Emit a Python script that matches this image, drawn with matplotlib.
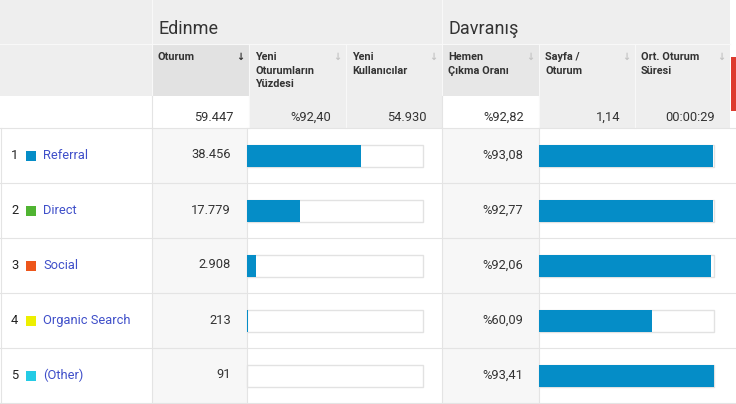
import matplotlib.pyplot as plt
from matplotlib.patches import Rectangle

plt.rcParams['font.family'] = ['Roboto', 'DejaVu Sans']

# data
channels = ['Referral', 'Direct', 'Social', 'Organic Search', '(Other)']
channel_colors = ['#058dc7', '#50b432', '#ed561b', '#edef00', '#24cbe5']
sessions = [38456, 17779, 2908, 213, 91]
bounce_rate = [93.08, 92.77, 92.06, 60.09, 93.41]

total_sessions = 59447
total_new_pct = 92.40
total_new_users = 54930
total_bounce = 92.82
total_pages = 1.14
total_duration = '00:00:29'

groups = ['Edinme', 'Davranış']
col_headers = [['Oturum'], ['Yeni', 'Oturumların', 'Yüzdesi'], ['Yeni', 'Kullanıcılar'],
               ['Hemen', 'Çıkma Oranı'], ['Sayfa /', 'Oturum'], ['Ort. Oturum', 'Süresi']]


def fmt_int(v):
    return f'{v:,}'.replace(',', '.')


def fmt_pct(v):
    return '%' + f'{v:.2f}'.replace('.', ',')


W, H = 736, 404
fig = plt.figure(figsize=(W / 100, H / 100), dpi=100)
ax = fig.add_axes([0, 0, 1, 1])
ax.set_xlim(0, W)
ax.set_ylim(H, 0)
ax.axis('off')

col_x = [152, 249, 346, 442, 539, 635, 730]
head_bg = '#eeeeee'
grid = '#e4e4e4'
txt = '#333333'

# header background
ax.add_patch(Rectangle((0, 0), 730, 96, color=head_bg, lw=0))
ax.add_patch(Rectangle((152, 44), 97, 52, color='#e2e2e2', lw=0))
ax.add_patch(Rectangle((442, 44), 97, 52, color='#e7e7e7', lw=0))
ax.add_patch(Rectangle((731, 57), 6, 54, color='#dd3b2f', lw=0))
ax.plot([0, 730], [44, 44], color='#f8f8f8', lw=0.8)
for x in [152, 442]:
    ax.plot([x, x], [0, 96], color='#f8f8f8', lw=0.8)
for x in [249, 346, 539, 635]:
    ax.plot([x, x], [44, 96], color='#f8f8f8', lw=0.8)

ax.text(158, 34, groups[0], fontsize=13, color=txt, va='baseline')
ax.text(448, 34, groups[1], fontsize=13, color=txt, va='baseline')

for i, lines in enumerate(col_headers):
    x0 = col_x[i]
    for j, line in enumerate(lines):
        ax.text(x0 + 6, 60 + 13.5 * j, line, fontsize=7.8, fontweight='bold',
                color=txt, va='baseline')
    active = i == 0
    ax.text(col_x[i + 1] - 9, 60, '↓', fontsize=7, fontweight='bold',
            color='#333333' if active else '#c4c4c4', va='baseline', ha='center')

# totals row
ax.add_patch(Rectangle((249, 96), 193, 32, color=head_bg, lw=0))
ax.add_patch(Rectangle((539, 96), 191, 32, color=head_bg, lw=0))
for x in [249, 346, 539, 635]:
    ax.plot([x, x], [96, 128], color='#f8f8f8', lw=0.8)
for x in [152, 442]:
    ax.plot([x, x], [96, 128], color=grid, lw=0.8)
totals = [fmt_int(total_sessions), fmt_pct(total_new_pct), fmt_int(total_new_users),
          fmt_pct(total_bounce), f'{total_pages:.2f}'.replace('.', ','), total_duration]
for i, t in enumerate(totals):
    ax.text(col_x[i + 1] - 15, 121, t, fontsize=9.3, color=txt, ha='right', va='baseline')

# data rows
row_top = 128
row_h = 55
n = len(channels)
ax.add_patch(Rectangle((152, row_top), 95, row_h * n, color='#f7f7f7', lw=0))
ax.add_patch(Rectangle((442, row_top), 97, row_h * n, color='#f7f7f7', lw=0))
ax.plot([0, W], [row_top, row_top], color=grid, lw=0.8)
for i in range(n):
    yb = row_top + row_h * (i + 1) - 0.5
    ax.plot([0, W], [yb, yb], color=grid, lw=0.8)
for x in [0.5, 152, 247, 442, 539]:
    ax.plot([x, x], [row_top, H], color=grid, lw=0.8)

centers = [row_top + row_h * i + 27.5 for i in range(n)]
for i, name in enumerate(channels):
    yc = centers[i]
    ax.text(11, yc + 3.5, str(i + 1), fontsize=9.3, color='#222222', va='baseline')
    ax.add_patch(Rectangle((26, yc - 4.5), 10, 10, color=channel_colors[i], lw=0))
    ax.text(43, yc + 3.5, name, fontsize=9.3, color='#3f4fc9', va='baseline')
    ax.text(231, yc + 3, fmt_int(sessions[i]), fontsize=9.3, color=txt, ha='right', va='baseline')
    ax.text(523, yc + 3, fmt_pct(bounce_rate[i]), fontsize=9.3, color=txt, ha='right', va='baseline')

# bar columns
ax_s = fig.add_axes([247 / W, 0, 176 / W, 1])
ax_s.set_xlim(0, total_sessions)
ax_s.set_ylim(H, 0)
ax_s.axis('off')
ax_s.barh(centers, [total_sessions] * n, height=22, color='white', edgecolor='#e2e2e2',
          linewidth=1, clip_on=False)
ax_s.barh(centers, sessions, height=22, color='#058dc7', linewidth=0)

ax_b = fig.add_axes([539 / W, 0, 175 / W, 1])
ax_b.set_xlim(0, max(bounce_rate))
ax_b.set_ylim(H, 0)
ax_b.axis('off')
ax_b.barh(centers, [max(bounce_rate)] * n, height=22, color='white', edgecolor='#e2e2e2',
          linewidth=1, clip_on=False)
ax_b.barh(centers, bounce_rate, height=22, color='#058dc7', linewidth=0)

fig.savefig('out.png', dpi=100)
